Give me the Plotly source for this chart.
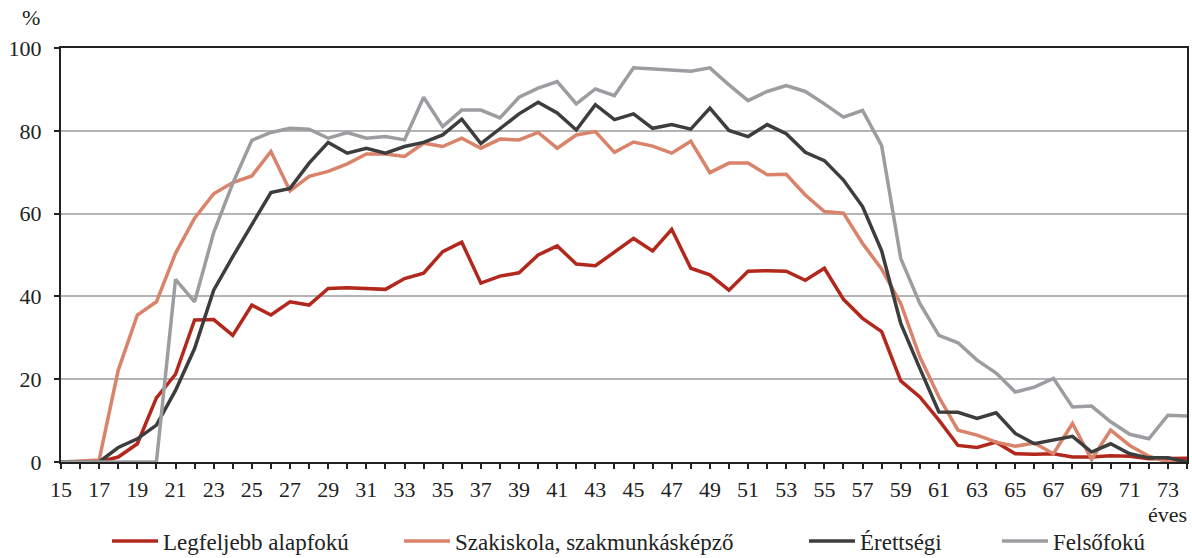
import plotly.graph_objects as go

ages = list(range(15, 75))

alapfoku = [0, 0, 0, 1.2, 4.4, 15.5, 21.2, 34.3, 34.4, 30.6, 37.9, 35.5, 38.7, 37.9, 41.9,
            42.1, 41.9, 41.7, 44.3, 45.6, 50.8, 53.1, 43.2, 44.9, 45.7, 50.0, 52.2, 47.8, 47.4, 50.6,
            54.0, 51.0, 56.2, 46.8, 45.2, 41.5, 46.1, 46.2, 46.1, 43.9, 46.8, 39.3, 34.7, 31.5, 19.6,
            15.7, 10.1, 4.0, 3.5, 4.8, 2.0, 1.9, 2.0, 1.2, 1.2, 1.5, 1.4, 0.8, 0.9, 0.9]

szakiskola = [0, 0.2, 0.5, 22.2, 35.5, 38.7, 50.4, 58.9, 64.8, 67.5, 69.1, 75.0, 65.5, 69.0, 70.2,
              72.0, 74.4, 74.4, 73.8, 77.0, 76.2, 78.2, 75.8, 78.0, 77.8, 79.6, 75.8, 79.0, 79.8, 74.8,
              77.3, 76.3, 74.6, 77.5, 69.9, 72.2, 72.2, 69.4, 69.5, 64.5, 60.5, 60.1, 52.8, 46.6, 38.3,
              25.4, 15.7, 7.7, 6.5, 4.8, 3.8, 4.6, 2.0, 9.3, 0.6, 7.7, 4.0, 1.4, 0.0, 0.0]

erettsegi = [0, 0, 0, 3.5, 5.6, 8.9, 17.3, 27.4, 41.5, 49.6, 57.3, 65.1, 66.1, 72.2, 77.2,
             74.6, 75.8, 74.6, 76.2, 77.2, 79.0, 82.8, 76.9, 80.4, 84.1, 86.9, 84.3, 80.2, 86.3, 82.7,
             84.1, 80.6, 81.5, 80.4, 85.5, 80.1, 78.6, 81.5, 79.3, 74.8, 72.8, 68.1, 61.7, 51.0, 33.5,
             22.6, 12.1, 12.0, 10.5, 11.9, 6.9, 4.4, 5.4, 6.2, 2.4, 4.4, 2.0, 1.0, 1.0, 0.0]

felsofoku = [0, 0, 0, 0, 0, 0, 44.1, 38.7, 55.4, 67.3, 77.7, 79.6, 80.6, 80.4, 78.2,
             79.6, 78.2, 78.6, 77.8, 88.1, 81.0, 85.0, 85.0, 83.1, 88.1, 90.3, 91.9, 86.5, 90.1, 88.5,
             95.2, 94.9, 94.6, 94.4, 95.2, 91.1, 87.3, 89.5, 90.9, 89.5, 86.5, 83.3, 84.9, 76.4, 49.2,
             38.3, 30.6, 28.8, 24.6, 21.5, 16.9, 18.1, 20.2, 13.3, 13.5, 9.7, 6.7, 5.6, 11.3, 11.1]

series_names = ["Legfeljebb alapfokú", "Szakiskola, szakmunkásképző", "Érettségi", "Felsőfokú"]
series_values = [alapfoku, szakiskola, erettsegi, felsofoku]
colors = ["#B3281C", "#D8836A", "#3D3D3D", "#9C9DA1"]
legend_ids = ["legend", "legend2", "legend3", "legend4"]
legend_px = [113, 405, 810, 1003]

FONT = "Liberation Serif"
W, H = 1192, 558
ml, mr, mt, mb = 61, 5, 48, 96
pw = W - ml - mr
ph = H - mt - mb

fig = go.Figure()
for name, vals, col, lid in zip(series_names, series_values, colors, legend_ids):
    fig.add_trace(go.Scatter(x=ages, y=vals, mode="lines", name=name,
                             line=dict(color=col, width=3.5), legend=lid))

layout_legends = {}
for lid, px in zip(legend_ids, legend_px):
    layout_legends[lid] = dict(
        x=(px - ml - 6) / pw, xanchor="left",
        y=(ph + mt - 541) / ph, yanchor="middle",
        orientation="h", font=dict(family=FONT, size=23, color="#222"),
        bgcolor="rgba(0,0,0,0)", itemwidth=46,
    )

fig.update_layout(
    width=W, height=H,
    margin=dict(l=ml, r=mr, t=mt, b=mb, autoexpand=False),
    plot_bgcolor="white", paper_bgcolor="white",
    font=dict(family=FONT, size=22, color="#222"),
    showlegend=True,
    **layout_legends,
)

fig.update_xaxes(
    range=[15, 74], tick0=15, dtick=2, ticks="outside", ticklen=5, tickwidth=2,
    tickcolor="#222", showline=True, linecolor="#222", linewidth=2, mirror=True,
    showgrid=False, zeroline=False, tickfont=dict(family=FONT, size=22, color="#222"),
    ticklabelstandoff=2,
    minor=dict(dtick=1, tick0=15, ticks="outside", ticklen=5, tickwidth=2, tickcolor="#222", showgrid=False),
)
fig.update_yaxes(
    range=[0, 100], dtick=20, ticks="outside", ticklen=5, tickwidth=2,
    tickcolor="#222", showline=True, linecolor="#222", linewidth=2, mirror=True,
    showgrid=True, gridcolor="#B4B4B4", gridwidth=1.5, zeroline=False,
    tickfont=dict(family=FONT, size=22, color="#222"), ticklabelstandoff=8,
)

fig.add_annotation(text="%", xref="paper", yref="paper", x=(31 - ml) / pw, y=(ph + mt - 18) / ph,
                   xanchor="center", yanchor="middle", showarrow=False,
                   font=dict(family=FONT, size=22, color="#222"))
fig.add_annotation(text="éves", xref="paper", yref="paper", x=(1189 - ml) / pw, y=(ph + mt - 514) / ph,
                   xanchor="right", yanchor="middle", showarrow=False,
                   font=dict(family=FONT, size=22, color="#222"))

fig.write_html("out.html", config={"displayModeBar": False},
               post_script="document.body.style.margin='0px';document.body.style.padding='0px';")
